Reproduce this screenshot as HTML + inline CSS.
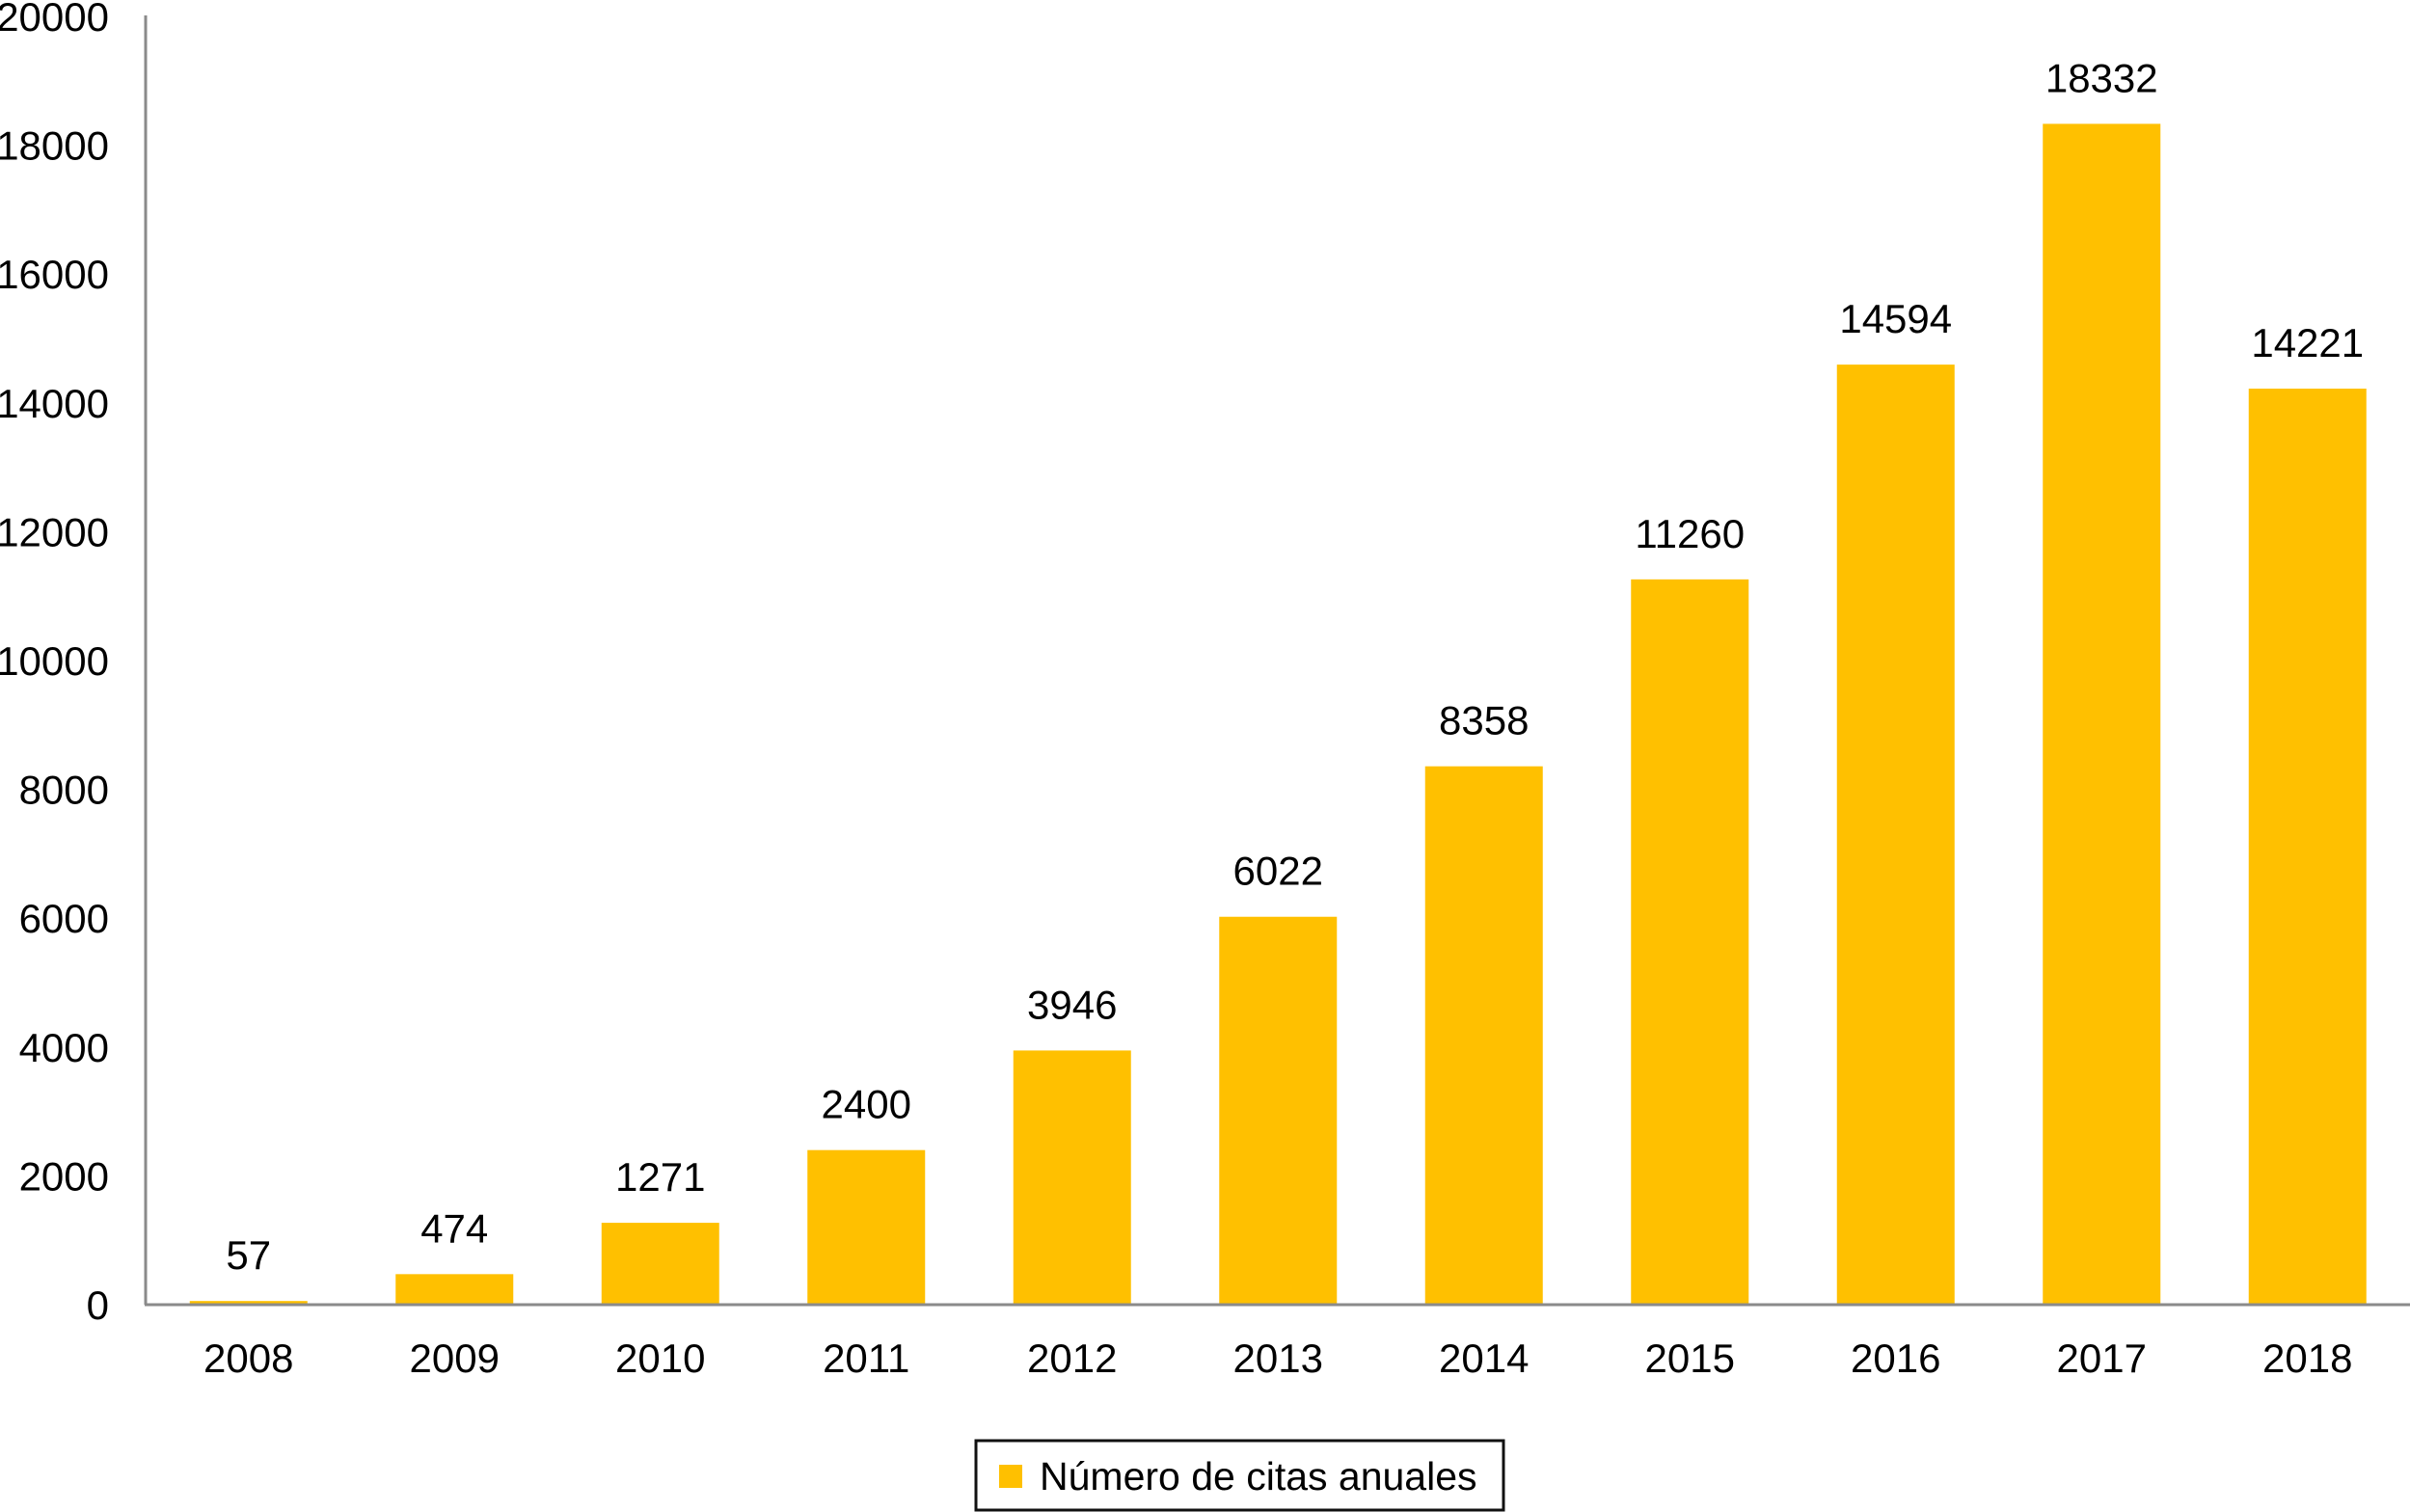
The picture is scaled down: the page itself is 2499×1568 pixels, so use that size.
<!DOCTYPE html>
<html><head><meta charset="utf-8">
<style>
html,body{margin:0;padding:0;background:#fff;}
svg{display:block;font-family:"Liberation Sans",Arial,sans-serif;}
</style></head>
<body>
<svg id="chart" width="2499" height="1568" viewBox="0 0 2499 1568" xmlns="http://www.w3.org/2000/svg">
<g id="yticks"></g>
<g id="bars"></g>
<g id="labels"></g>
<g id="xticks"></g>
<line x1="151" y1="16" x2="151" y2="1353" stroke="#8a8a8a" stroke-width="3"/>
<line x1="150" y1="1353" x2="2499" y2="1353" stroke="#8a8a8a" stroke-width="3"/>
<g>
<rect x="1012" y="1494" width="547" height="72" fill="#fff" stroke="#111" stroke-width="3"/>
<rect x="1036" y="1519" width="24" height="24" fill="#FFC000"/>
<text x="1078" y="1545" font-size="41" fill="#000">Número de citas anuales</text>
</g>
</svg>
<script>
const categories = ["2008","2009","2010","2011","2012","2013","2014","2015","2016","2017","2018"];
const values = [57,474,1271,2400,3946,6022,8358,11260,14594,18332,14221];
const yTicks = [0,2000,4000,6000,8000,10000,12000,14000,16000,18000,20000];
const NS="http://www.w3.org/2000/svg";
const x0=151, pitch=213.5, barW=122, yBase=1353, yTop=17, yMax=20000;
function y(v){return yBase-(yBase-yTop)*v/yMax;}
function xc(i){return x0+pitch*(i+0.5);}
function mk(tag,attrs,parent,txt){const e=document.createElementNS(NS,tag);for(const k in attrs)e.setAttribute(k,attrs[k]);if(txt!==undefined)e.textContent=txt;document.getElementById(parent).appendChild(e);return e;}
yTicks.forEach(t=>{
  const e=mk('text',{x:113,y:y(t)+15,'text-anchor':'end','font-size':42,fill:'#000'},'yticks',String(t));
  
  
});
categories.forEach((c,i)=>{
  const v=values[i];
  const r=mk('rect',{x:xc(i)-barW/2,y:y(v),width:barW,height:yBase-y(v),fill:'#FFC000'},'bars');
  
  
  const l=mk('text',{x:xc(i),y:y(v)-33,'text-anchor':'middle','font-size':42,fill:'#000'},'labels',String(v));
  
  
  const t=mk('text',{x:xc(i),y:1423,'text-anchor':'middle','font-size':42,fill:'#000'},'xticks',c);
  
  
});
</script>
</body></html>
